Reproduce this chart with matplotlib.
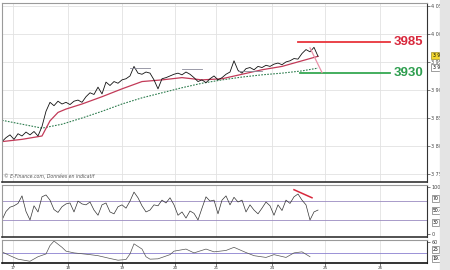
import matplotlib
matplotlib.use('Agg')
import matplotlib.pyplot as plt
from matplotlib.patches import Rectangle

# price (close), one value per bar
price = [3808, 3815, 3820, 3812, 3822, 3818, 3825, 3820, 3826, 3818,
         3835, 3862, 3878, 3872, 3880, 3875, 3878, 3874, 3880, 3882,
         3878, 3888, 3895, 3892, 3905, 3893, 3914, 3908, 3915, 3912,
         3918, 3920, 3925, 3942, 3930, 3928, 3932, 3930, 3918, 3902,
         3920, 3922, 3925, 3928, 3930, 3927, 3932, 3928, 3922, 3915,
         3918, 3913, 3920, 3925, 3918, 3922, 3928, 3932, 3952, 3935,
         3930, 3938, 3940, 3936, 3942, 3940, 3944, 3942, 3946, 3948,
         3945, 3950, 3952, 3956, 3955, 3965, 3972, 3968, 3976, 3960]

ma_short_idx = [0, 5, 10, 12, 14, 16, 20, 25, 30, 35, 40, 45, 50, 55, 60, 65, 70, 75, 79]
ma_short = [3808, 3812, 3818, 3845, 3860, 3866, 3875, 3888, 3902, 3915,
            3918, 3922, 3918, 3920, 3928, 3936, 3942, 3952, 3960]

ma_long_idx = [0, 5, 10, 15, 20, 25, 30, 35, 40, 45, 50, 55, 60, 65, 70, 75, 79]
ma_long = [3846, 3839, 3832, 3839, 3850, 3862, 3875, 3886, 3895, 3904,
           3912, 3918, 3923, 3927, 3930, 3934, 3939]

rsi = [30, 48, 57, 60, 65, 81, 48, 30, 60, 47,
       79, 83, 72, 52, 46, 58, 64, 66, 47, 70,
       64, 62, 68, 51, 40, 62, 66, 47, 43, 58,
       62, 55, 70, 89, 77, 60, 47, 51, 62, 60,
       72, 66, 77, 62, 40, 47, 34, 49, 44, 30,
       55, 79, 70, 72, 43, 72, 81, 62, 78, 68,
       72, 47, 62, 51, 43, 55, 68, 60, 40, 62,
       50, 72, 65, 79, 85, 72, 62, 30, 47, 51]

osc_idx = [0, 2, 4, 7, 9, 11, 12, 13, 15, 16, 18, 22, 24, 27, 29, 31, 32, 33,
           35, 36, 37, 39, 42, 43, 46, 48, 51, 53, 56, 58, 61, 63, 66, 68, 71,
           73, 75, 77]
osc = [32, 21, 11, 5, 18, 26, 50, 63, 45, 34, 29, 24, 21, 13, 8, 10, 26, 55,
       40, 18, 11, 12, 24, 34, 40, 29, 40, 32, 36, 45, 30, 21, 16, 24, 16,
       29, 32, 18]

resistances = [(32, 37, 3939), (45, 50, 3937), (59, 65, 3934)]
level_high = 3985
level_low = 3930

tick_pos = [2.75, 16.5, 30, 43.25, 53.5, 67.5, 80.75, 94.5]
tick_lab = ['17', '18', '19', '20', '21', '24', '25', '26']

W, H = 450, 270
fig = plt.figure(figsize=(4.5, 2.7), dpi=100)


def box(x0, y0, x1, y1):
    # pixel box (top-left origin) -> figure fraction
    return [x0 / W, 1 - y1 / H, (x1 - x0) / W, (y1 - y0) / H]


fig.patches.append(Rectangle((440 / W, 0), 10 / W, 1, transform=fig.transFigure,
                             color='#e4e4e4', zorder=0))

ax = fig.add_axes(box(2, 3, 427, 182))
ax_rsi = fig.add_axes(box(2, 185, 427, 237), sharex=ax)
ax_osc = fig.add_axes(box(2, 240, 427, 263), sharex=ax)

grid_c = '#e2e2e2'
for a in (ax, ax_rsi, ax_osc):
    for s in a.spines.values():
        s.set_color('#9a9a9a')
        s.set_linewidth(0.8)
    a.spines['right'].set_color('#333333')
    a.yaxis.tick_right()
    a.tick_params(axis='y', labelsize=3.5, colors='#444444', length=2, width=0.5, pad=1)
    a.tick_params(axis='x', length=2, width=0.5, labelsize=3, colors='#444444', pad=0.5)
    a.set_xticks(tick_pos)
    a.grid(axis='x', color=grid_c, lw=0.6)

ax.spines['bottom'].set_color('#333333')
ax.spines['bottom'].set_linewidth(1.2)
ax_rsi.spines['bottom'].set_color('#333333')
ax_rsi.spines['bottom'].set_linewidth(1.2)
ax_osc.spines['bottom'].set_color('#111111')
ax_osc.spines['bottom'].set_linewidth(1.2)
ax.tick_params(axis='x', labelbottom=False, length=0)
ax_rsi.tick_params(axis='x', labelbottom=False, length=0)
ax_osc.set_xticklabels(tick_lab)

# main price panel
ax.set_xlim(0, 106.25)
ax.set_ylim(3736, 4055)
ax.set_yticks([3750, 3800, 3850, 3900, 3950, 4000, 4050])
ax.set_yticklabels(['3 750', '3 800', '3 850', '3 900', '3 950', '4 000', '4 050'])
ax.grid(axis='y', color=grid_c, lw=0.6)

ax.plot(ma_long_idx, ma_long, color='#2e7d4f', lw=0.8, ls=(0, (1.5, 1.2)))
ax.plot(ma_short_idx, ma_short, color='#c23a58', lw=0.9)
ax.plot(range(len(price)), price, color='#111111', lw=0.6)
for x0, x1, y in resistances:
    ax.plot([x0, x1], [y, y], color='#8a8a9a', lw=0.6)

ax.plot([74, 97], [level_high, level_high], color='#e8343c', lw=1.3)
ax.plot([74.5, 97], [level_low, level_low], color='#35a852', lw=1.3)
ax.plot([77, 80], [3975, 3931], color='#e891a8', lw=0.9)
ax.text(98, level_high, str(level_high), color='#d8283c', fontsize=9.5, fontweight='bold',
        family='Liberation Sans', va='center', ha='left')
ax.text(98, level_low, str(level_low), color='#2e9e4f', fontsize=9.5, fontweight='bold',
        family='Liberation Sans', va='center', ha='left')
ax.text(0.5, 3741, '© E-Finance.com, Données en indicatif', fontsize=3.3, style='italic',
        color='#555555', va='bottom')

ytr = ax.get_yaxis_transform()
ax.text(1.013, 3962, '3 962', transform=ytr, fontsize=3.3, va='center', ha='left',
        bbox=dict(boxstyle='square,pad=0.25', fc='#f2d630', ec='#8a7a10', lw=0.4))
ax.text(1.013, 3940, '3 939.6', transform=ytr, fontsize=3.3, va='center', ha='left',
        bbox=dict(boxstyle='square,pad=0.25', fc='white', ec='#555555', lw=0.4))

# RSI panel
ax_rsi.set_ylim(-6, 104)
ax_rsi.set_yticks([0, 100])
ax_rsi.set_yticklabels(['0', '100'])
ax_rsi.axhline(70, color='#9a8ac0', lw=0.6)
ax_rsi.axhline(30, color='#9a8ac0', lw=0.6)
ax_rsi.plot(range(len(rsi)), rsi, color='#333333', lw=0.5)
ax_rsi.plot([73, 77.5], [94, 77], color='#d8283c', lw=1.1)
rtr = ax_rsi.get_yaxis_transform()
for v, s in [(75, '70'), (50, '50.401'), (25, '30')]:
    ax_rsi.text(1.013, v, s, transform=rtr, fontsize=3.3, va='center', ha='left',
                bbox=dict(boxstyle='square,pad=0.2', fc='white', ec='#555555', lw=0.4))

# oscillator panel
ax_osc.set_ylim(0, 66)
ax_osc.set_yticks([60])
ax_osc.axhline(29, color='#8a80d0', lw=0.6)
ax_osc.plot(osc_idx, osc, color='#555555', lw=0.5)
otr = ax_osc.get_yaxis_transform()
ax_osc.text(1.013, 38, '25', transform=otr, fontsize=3.3, va='center', ha='left',
            bbox=dict(boxstyle='square,pad=0.2', fc='white', ec='#555555', lw=0.4))
ax_osc.text(1.013, 14, '19.171', transform=otr, fontsize=3.3, va='center', ha='left',
            bbox=dict(boxstyle='square,pad=0.2', fc='white', ec='#555555', lw=0.4))

fig.savefig('out.png', dpi=100)
